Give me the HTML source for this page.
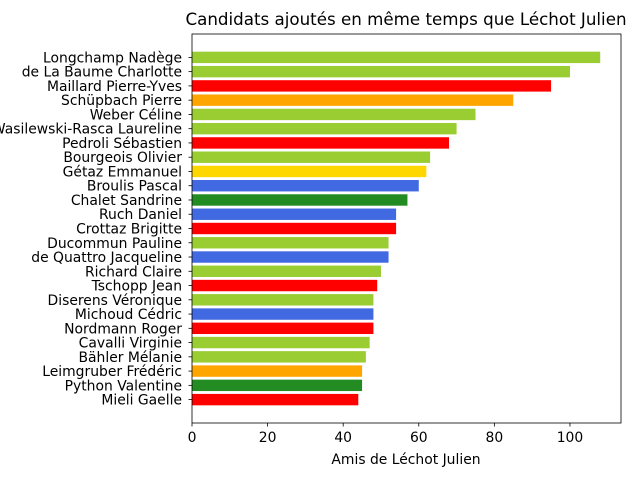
<!DOCTYPE html>
<html><head><meta charset="utf-8"><style>
body{margin:0;background:#fff;font-family:"DejaVu Sans","Liberation Sans",sans-serif;}
svg text{font-family:"DejaVu Sans","Liberation Sans",sans-serif;}
</style></head><body>
<svg id="chart" width="640" height="480" xmlns="http://www.w3.org/2000/svg">
<rect width="640" height="480" fill="#fff"/>
<text x="406" y="25" font-size="16.7" text-anchor="middle">Candidats ajoutés en même temps que Léchot Julien</text>
<text x="406" y="464" font-size="13.9" text-anchor="middle">Amis de Léchot Julien</text>
<g id="plot"></g>
</svg>
<script>
const names=["Longchamp Nadège","de La Baume Charlotte","Maillard Pierre-Yves","Schüpbach Pierre","Weber Céline","Wasilewski-Rasca Laureline","Pedroli Sébastien","Bourgeois Olivier","Gétaz Emmanuel","Broulis Pascal","Chalet Sandrine","Ruch Daniel","Crottaz Brigitte","Ducommun Pauline","de Quattro Jacqueline","Richard Claire","Tschopp Jean","Diserens Véronique","Michoud Cédric","Nordmann Roger","Cavalli Virginie","Bähler Mélanie","Leimgruber Frédéric","Python Valentine","Mieli Gaelle"];
const values=[108,100,95,85,75,70,68,63,62,60,57,54,54,52,52,50,49,48,48,48,47,46,45,45,44];
const colors=["#9acd32","#9acd32","#ff0000","#ffa500","#9acd32","#9acd32","#ff0000","#9acd32","#ffd700","#4169e1","#228b22","#4169e1","#ff0000","#9acd32","#4169e1","#9acd32","#ff0000","#9acd32","#4169e1","#ff0000","#9acd32","#9acd32","#ffa500","#228b22","#ff0000"];
const xTicks=[0,20,40,60,80,100];
const L=192,R=621,T=34,B=423;
const xMax=113.5;
const n=names.length;
const yMin=-0.4-0.05*(n-1+0.8), yMax=n-1+0.4+0.05*(n-1+0.8);
const x=v=>L+(v/xMax)*(R-L);
const y=i=>T+(i-yMin)/(yMax-yMin)*(B-T);
const g=document.getElementById('plot');
const NS="http://www.w3.org/2000/svg";
function mk(t,a){const e=document.createElementNS(NS,t);for(const k in a)e.setAttribute(k,a[k]);g.appendChild(e);return e;}
const bh=(y(0.8)-y(0));
for(let i=0;i<n;i++){
  const r=mk('rect',{x:x(0),y:y(i)-bh/2,width:x(values[i])-x(0),height:bh,fill:colors[i]});
  
  
  const tk=mk('line',{x1:L-3.5,x2:L,y1:y(i),y2:y(i),stroke:'#000','stroke-width':0.8});
  
  
  const t=mk('text',{x:L-10,y:y(i)+5,'font-size':13.9,'text-anchor':'end'});
  t.textContent=names[i];
  
  
}
for(const v of xTicks){
  const tk=mk('line',{x1:x(v),x2:x(v),y1:B,y2:B+3.5,stroke:'#000','stroke-width':0.8});
  
  
  const t=mk('text',{x:x(v),y:B+19,'font-size':13.9,'text-anchor':'middle'});
  t.textContent=v;
  
  
}
const fr=mk('rect',{x:L,y:T,width:R-L,height:B-T,fill:'none',stroke:'#000','stroke-width':0.8});


</script>
</body></html>
